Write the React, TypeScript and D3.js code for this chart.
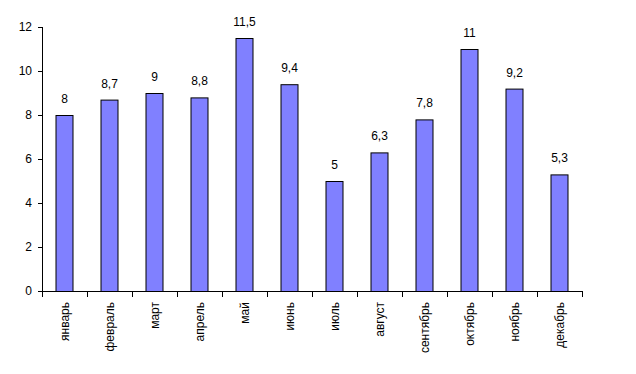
import React from 'react';
import * as d3 from 'd3';

const months = ['январь', 'февраль', 'март', 'апрель', 'май', 'июнь', 'июль', 'август', 'сентябрь', 'октябрь', 'ноябрь', 'декабрь'];
const values = [8, 8.7, 9, 8.8, 11.5, 9.4, 5, 6.3, 7.8, 11, 9.2, 5.3];
const yTicks = [0, 2, 4, 6, 8, 10, 12];

export default function App() {
  const width = 636;
  const height = 374;
  const left = 42;
  const right = 582;
  const top = 27;
  const bottom = 291;

  const x = d3.scaleBand<string>().domain(months).range([left, right]).paddingInner(0.6).paddingOuter(0.3);
  const y = d3.scaleLinear().domain([0, 12]).range([bottom, top]);
  const fmt = (v: number) => String(v).replace('.', ',');
  const font = 'Liberation Sans, Arial, sans-serif';
  const step = (right - left) / months.length;

  return (
    <svg width={width} height={height} style={{ position: 'absolute', left: 0, top: 0 }} fontFamily={font}>
      <rect width={width} height={height} fill="#fff" />
      {months.map((m, i) => (
        <g key={m}>
          <rect x={x(m)! + 0.5} y={y(values[i]) + 0.5} width={x.bandwidth() - 1} height={bottom - y(values[i])}
            fill="#8080ff" stroke="#000" strokeWidth={1} />
          <text x={x(m)! + x.bandwidth() / 2} y={y(values[i]) - 12} textAnchor="middle" fontSize={12}>{fmt(values[i])}</text>
          <text transform={`translate(${x(m)! + x.bandwidth() / 2 + 4},302) rotate(-90)`} textAnchor="end" fontSize={12}>{m}</text>
        </g>
      ))}
      <line x1={left + 0.5} x2={left + 0.5} y1={top} y2={bottom + 0.5} stroke="#000" />
      <line x1={left} x2={right + 0.5} y1={bottom + 0.5} y2={bottom + 0.5} stroke="#000" />
      {yTicks.map(t => (
        <g key={t}>
          <line x1={left - 4} x2={left} y1={Math.round(y(t)) + 0.5} y2={Math.round(y(t)) + 0.5} stroke="#000" />
          <text x={32} y={y(t) + 4} textAnchor="end" fontSize={12}>{t}</text>
        </g>
      ))}
      {d3.range(months.length + 1).map(i => (
        <line key={i} x1={Math.round(left + i * step) + 0.5} x2={Math.round(left + i * step) + 0.5} y1={bottom} y2={bottom + 6} stroke="#000" />
      ))}
    </svg>
  );
}
